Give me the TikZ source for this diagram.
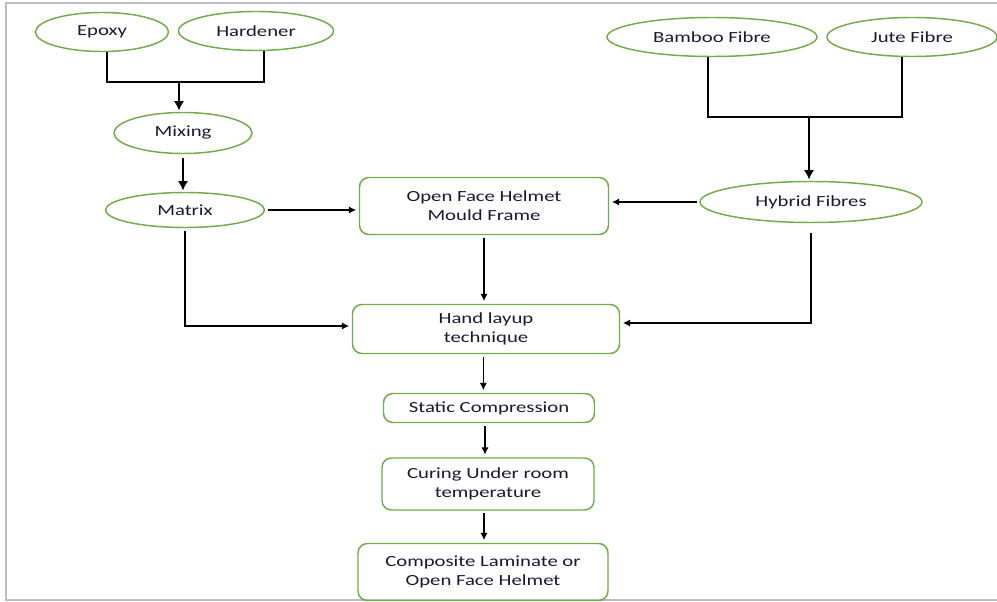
\documentclass[tikz,border=0pt]{standalone}
\usepackage{fontspec}
\setmainfont{Carlito}[FakeStretch=1.34]
\usetikzlibrary{shapes.geometric,arrows.meta}

\definecolor{okgreen}{RGB}{112,173,71}
\definecolor{inkblue}{RGB}{25,25,50}
\definecolor{framegray}{RGB}{190,190,190}

\tikzset{
  ellnode/.style={ellipse,draw=okgreen,line width=1.1pt,inner sep=0pt,text=inkblue,align=center},
  boxnode/.style={rectangle,rounded corners=7pt,draw=okgreen,line width=1.1pt,inner sep=0pt,text=inkblue,align=center},
  arr/.style={-{Latex[length=5.5pt,width=5.5pt]},line width=0.9pt,shorten <=2pt,shorten >=2pt},
  bigarr/.style={-{Latex[length=7pt,width=7.5pt]},line width=0.9pt,shorten >=1pt},
  plain/.style={line width=0.9pt}
}

\begin{document}
\begin{tikzpicture}[x=0.75pt,y=-0.75pt,font=\fontsize{11.6}{14}\selectfont]
  \useasboundingbox (0,0) rectangle (997,602);
  \draw[framegray,line width=1.2pt] (997,3) -- (6,3) -- (6,600) -- (997,600);

  \node[ellnode,minimum width=99.75pt,minimum height=29.25pt] (epoxy) at (102,32) {Epoxy};
  \node[ellnode,minimum width=116.25pt,minimum height=29.25pt] (hardener) at (256,31) {Hardener};
  \node[ellnode,minimum width=103.5pt,minimum height=30.75pt] (mixing) at (183,133) {Mixing};
  \node[ellnode,minimum width=119.25pt,minimum height=26.25pt] (matrix) at (185,210) {Matrix};
  \node[ellnode,minimum width=157.5pt,minimum height=29.25pt] (bamboo) at (712,37) {Bamboo Fibre};
  \node[ellnode,minimum width=127.5pt,minimum height=29.25pt] (jute) at (912,37) {Jute Fibre};
  \node[ellnode,minimum width=166.5pt,minimum height=30.75pt] (hybrid) at (811,202) {Hybrid Fibres};

  \node[boxnode,minimum width=186.75pt,minimum height=42.75pt] (mould) at (484,206) {Open Face Helmet\\Mould Frame};
  \node[boxnode,minimum width=200.25pt,minimum height=36.75pt] (handlay) at (486,329) {Hand layup\\technique};
  \node[boxnode,minimum width=158.25pt,minimum height=21.75pt] (static) at (489,408) {Static Compression};
  \node[boxnode,minimum width=159pt,minimum height=39pt] (curing) at (488,484) {Curing Under room\\temperature};
  \node[boxnode,minimum width=187.5pt,minimum height=42.75pt] (laminate) at (483,572) {Composite Laminate or\\Open Face Helmet};

  \coordinate (resin-j) at (179,82);
  \coordinate (fibre-j) at (809,117);

  \draw[plain] ([xshift=3.75pt]epoxy.south) |- (resin-j) -| ([xshift=6pt]hardener.south);
  \draw[bigarr] (resin-j) -- (resin-j |- mixing.north);
  \draw[bigarr,shorten <=3pt] (mixing.south) -- (mixing.south |- matrix.north);

  \draw[plain] ([xshift=-3pt]bamboo.south) |- (fibre-j) -| ([xshift=-7.5pt]jute.south);
  \draw[bigarr] (fibre-j) -- (fibre-j |- hybrid.north);

  \draw[arr] (matrix.east) -- (matrix.east -| mould.west);
  \draw[arr] (hybrid.west) -- (hybrid.west -| mould.east);

  \draw[arr] (matrix.south) |- ([yshift=2.25pt]handlay.west);
  \draw[arr,shorten <=7pt] (hybrid.south) |- ([yshift=4.5pt]handlay.east);

  \draw[arr] (mould.south) -- (mould.south |- handlay.north);
  \draw[arr] ([xshift=-2pt]handlay.south) -- ([xshift=-2pt]handlay.south |- static.north);
  \draw[arr] ([xshift=-3pt]static.south) -- ([xshift=-3pt]static.south |- curing.north);
  \draw[arr] ([xshift=-3pt]curing.south) -- ([xshift=-3pt]curing.south |- laminate.north);
\end{tikzpicture}
\end{document}
